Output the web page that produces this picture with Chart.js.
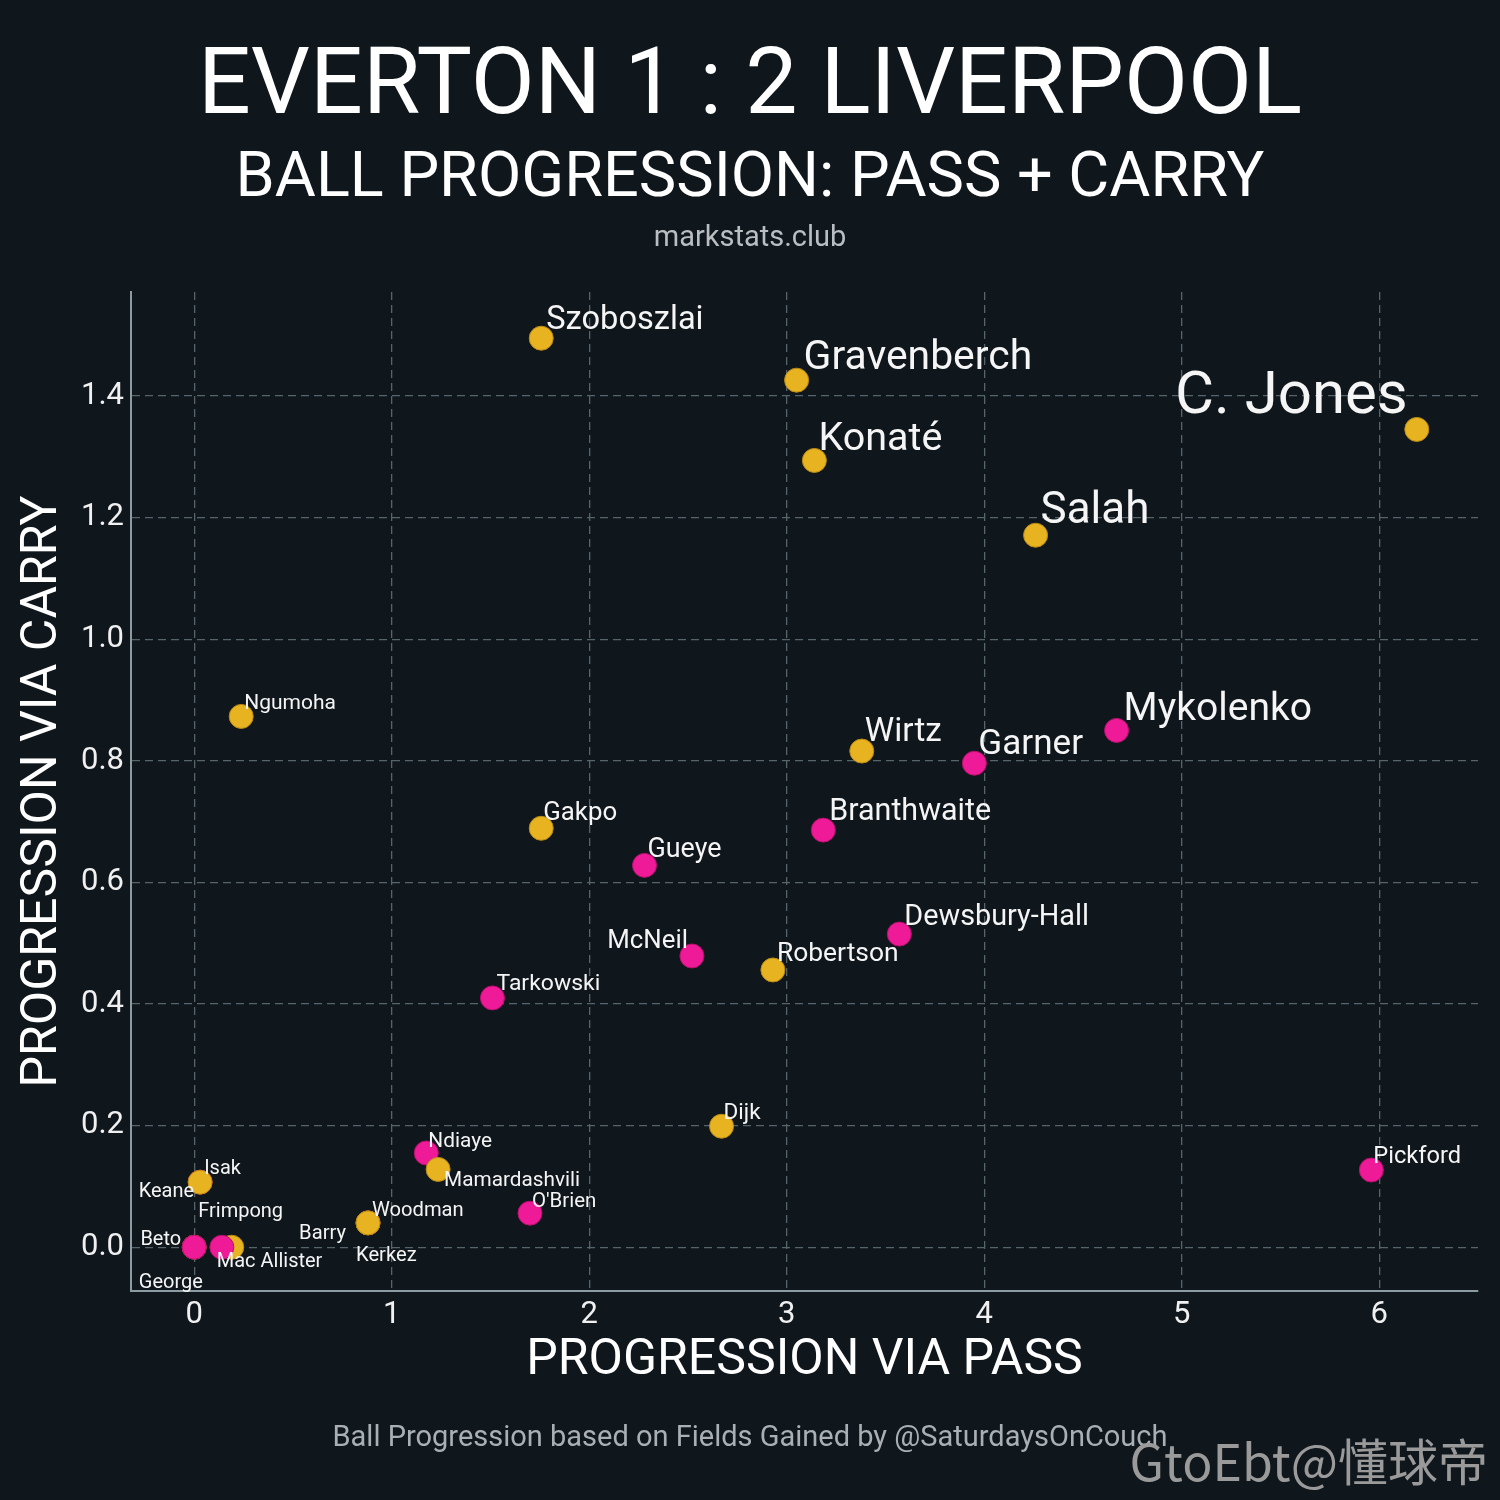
<!DOCTYPE html>
<html lang="en">
<head>
<meta charset="UTF-8">
<script src="https://cdn.jsdelivr.net/npm/chart.js@4/dist/chart.umd.min.js"></script>
<title>Everton 1 : 2 Liverpool</title>
<style>
  html, body { margin: 0; padding: 0; background: #0f161c; }
  #wrap { width: 1500px; height: 1500px; }
</style>
</head>
<body>
<div id="wrap"><canvas id="grafico"></canvas></div>
<script>
// dati (ordine = ordine di disegno)
var players = ['Keane', 'Isak', 'Frimpong', 'Beto', 'Mac Allister', 'George', 'Barry', 'Kerkez', 'Woodman',
  'Ndiaye', 'Mamardashvili', "O'Brien", 'Tarkowski', 'Dijk', 'Pickford', 'McNeil', 'Robertson',
  'Dewsbury-Hall', 'Gueye', 'Gakpo', 'Branthwaite', 'Wirtz', 'Garner', 'Mykolenko', 'Ngumoha',
  'Salah', 'Konaté', 'Gravenberch', 'Szoboszlai', 'C. Jones'];
var teams = ['EVE', 'LIV', 'LIV', 'EVE', 'LIV', 'EVE', 'EVE', 'LIV', 'LIV',
  'EVE', 'LIV', 'EVE', 'EVE', 'LIV', 'EVE', 'EVE', 'LIV',
  'EVE', 'EVE', 'LIV', 'EVE', 'LIV', 'EVE', 'EVE', 'LIV',
  'LIV', 'LIV', 'LIV', 'LIV', 'LIV'];
var viaPass = [0.03, 0.03, 0.00, 0.00, 0.19, 0.14, 0.88, 0.88, 0.88,
  1.175, 1.235, 1.70, 1.51, 2.67, 5.96, 2.52, 2.93,
  3.57, 2.28, 1.757, 3.185, 3.38, 3.95, 4.67, 0.238,
  4.26, 3.14, 3.05, 1.757, 6.19];
var viaCarry = [0.107, 0.107, 0.000, 0.000, 0.000, 0.000, 0.040, 0.040, 0.040,
  0.155, 0.128, 0.056, 0.410, 0.199, 0.127, 0.479, 0.456,
  0.515, 0.628, 0.689, 0.686, 0.816, 0.796, 0.850, 0.873,
  1.171, 1.294, 1.426, 1.495, 1.345];
var xTicks = [0, 1, 2, 3, 4, 5, 6];
var yTicks = [0.0, 0.2, 0.4, 0.6, 0.8, 1.0, 1.2, 1.4];

var teamColors = { EVE: '#ee1a97', LIV: '#e8b321' };
var teamEdges = { EVE: '#b8106f', LIV: '#b98a12' };

// spostamenti delle etichette (come adjustText)
var labelShift = {
  'Szoboszlai': [5, -9], 'Gravenberch': [7, -11], 'Konaté': [4, -10],
  'C. Jones': [-9, -16, 'right'], 'Salah': [5, -12], 'Ngumoha': [3, -7],
  'Wirtz': [3, -10], 'Garner': [4, -9], 'Mykolenko': [7, -10], 'Gakpo': [2, -8],
  'Branthwaite': [6, -10], 'Gueye': [3, -8], 'McNeil': [-4, -8, 'right'],
  'Robertson': [4, -9], 'Dewsbury-Hall': [5, -9], 'Tarkowski': [4, -8],
  'Dijk': [2, -7], 'Pickford': [2, -7], 'Ndiaye': [2, -6], 'Mamardashvili': [6, 17],
  "O'Brien": [2, -6], 'Woodman': [4, -7], 'Isak': [4, -8], 'Keane': [-6, 15, 'right'],
  'Frimpong': [4, -30], 'Beto': [-13, -2, 'right'], 'Mac Allister': [-15, 20],
  'George': [-83, 41], 'Barry': [-22, 16, 'right'], 'Kerkez': [-12, 38]
};

var points = viaPass.map(function(d, i) { return { x: d, y: viaCarry[i] }; });

var testi = {
  id: 'testi',
  afterDatasetsDraw: function(chart) {
    var ctx = chart.ctx;
    var meta = chart.getDatasetMeta(0);
    ctx.save();
    ctx.fillStyle = '#f5f5f5';
    ctx.textBaseline = 'alphabetic';
    meta.data.forEach(function(el, i) {
      var size = 20 + 4.8 * viaPass[i] * viaCarry[i];
      var s = labelShift[players[i]] || [4, -8];
      ctx.font = size + 'px Roboto';
      ctx.textAlign = s[2] || 'left';
      ctx.fillText(players[i], el.x + s[0], el.y + s[1]);
    });
    ctx.restore();
  },
  afterDraw: function(chart) {
    var ctx = chart.ctx;
    var a = chart.chartArea;
    ctx.save();
    ctx.textAlign = 'center';
    ctx.textBaseline = 'middle';
    ctx.fillStyle = '#ffffff';
    ctx.font = '93px Roboto';
    ctx.fillText('EVERTON 1 : 2 LIVERPOOL', 750, 90);
    ctx.font = '63px Roboto';
    ctx.fillText('BALL PROGRESSION: PASS + CARRY', 750, 180);
    ctx.fillStyle = '#b9bec2';
    ctx.font = '29px Roboto';
    ctx.fillText('markstats.club', 750, 239);
    ctx.fillStyle = '#ffffff';
    ctx.font = '50px Roboto';
    ctx.fillText('PROGRESSION VIA PASS', (a.left + a.right) / 2, 1361);
    ctx.save();
    ctx.translate(43, (a.top + a.bottom) / 2);
    ctx.rotate(-Math.PI / 2);
    ctx.fillText('PROGRESSION VIA CARRY', 0, 0);
    ctx.restore();
    ctx.fillStyle = '#a9afb4';
    ctx.font = '29px Roboto';
    ctx.fillText('Ball Progression based on Fields Gained by @SaturdaysOnCouch', 750, 1439);
    ctx.fillStyle = '#9a9a9a';
    ctx.textAlign = 'right';
    ctx.font = '50px "Noto Sans CJK SC"';
    ctx.fillText('GtoEbt@懂球帝', 1488, 1462);
    ctx.restore();
  }
};

var config = {
  type: 'scatter',
  data: {
    datasets: [{
      data: points,
      pointRadius: 12,
      pointHoverRadius: 12,
      pointBorderWidth: 1,
      pointBackgroundColor: teams.map(function(t) { return teamColors[t]; }),
      pointBorderColor: teams.map(function(t) { return teamEdges[t]; })
    }]
  },
  options: {
    responsive: false,
    animation: false,
    devicePixelRatio: 1,
    layout: { padding: { top: 292, right: 22, bottom: 149, left: 0 } },
    plugins: { legend: { display: false }, tooltip: { enabled: false } },
    scales: {
      x: {
        type: 'linear',
        min: -0.32,
        max: 6.5,
        afterFit: function(s) { s.height = 60; },
        afterBuildTicks: function(s) { s.ticks = xTicks.map(function(v) { return { value: v }; }); },
        ticks: { color: '#f0f0f0', font: { family: 'Roboto', size: 31 }, padding: 6 },
        grid: { color: '#56646b', lineWidth: 1.3, drawTicks: false },
        border: { display: true, color: '#8c9ba1', width: 2, dash: [8, 5] }
      },
      y: {
        type: 'linear',
        min: -0.072,
        max: 1.571,
        afterFit: function(s) { s.width = 131; },
        afterBuildTicks: function(s) { s.ticks = yTicks.map(function(v) { return { value: v }; }); },
        ticks: {
          color: '#f0f0f0', font: { family: 'Roboto', size: 31 }, padding: 7,
          callback: function(v) { return v.toFixed(1); }
        },
        grid: { color: '#56646b', lineWidth: 1.3, drawTicks: false },
        border: { display: true, color: '#8c9ba1', width: 2, dash: [8, 5] }
      }
    }
  },
  plugins: [testi]
};

var canvas = document.getElementById('grafico');
canvas.width = 1500;
canvas.height = 1500;
var myChart = new Chart(canvas, config);
</script>
</body>
</html>
